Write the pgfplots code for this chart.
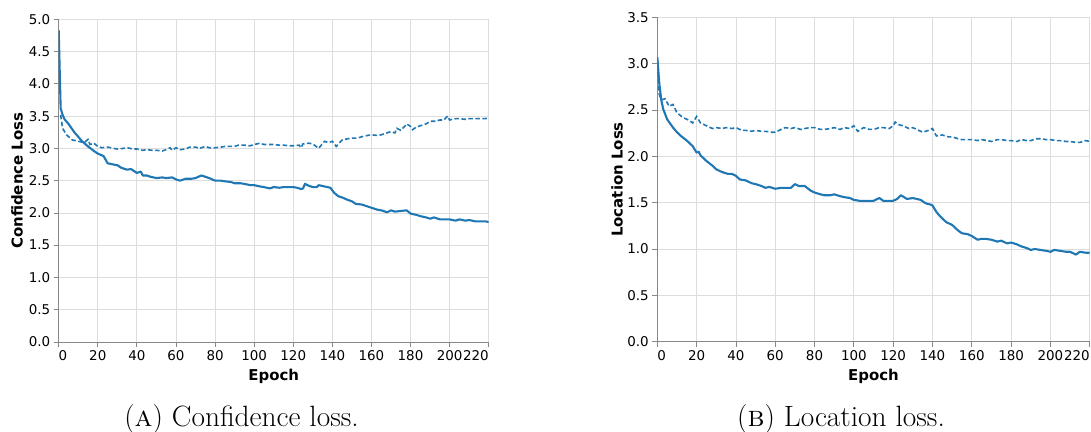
\documentclass[border=0pt]{standalone}
\usepackage{fontspec}
\usepackage{pgfplots}
\usepackage{pgfplotstable}
\pgfplotsset{compat=1.18}
\newfontfamily\dejavu{DejaVu Sans}
\definecolor{lineblue}{HTML}{1F77B4}
\definecolor{gridgray}{HTML}{DDDDDD}
\definecolor{axisgray}{HTML}{888888}

\pgfplotstableread{
x y
0 4.83
1 3.62
2 3.52
3 3.45
5 3.38
8 3.25
12 3.11
15 3.03
18 2.96
20 2.92
23 2.88
25 2.77
28 2.75
30 2.74
32 2.70
35 2.67
37 2.68
40 2.62
42 2.64
43 2.58
45 2.58
47 2.56
50 2.54
53 2.55
55 2.54
58 2.55
60 2.52
62 2.50
65 2.53
68 2.53
70 2.54
73 2.58
75 2.56
77 2.54
80 2.50
83 2.50
85 2.49
88 2.48
90 2.46
93 2.46
95 2.45
98 2.43
100 2.43
103 2.41
105 2.40
108 2.38
110 2.40
113 2.39
115 2.40
118 2.40
120 2.40
122 2.39
124 2.37
125 2.38
126 2.45
128 2.42
130 2.40
132 2.40
133 2.43
136 2.41
139 2.39
141 2.31
143 2.26
145 2.24
148 2.20
150 2.18
152 2.14
155 2.13
158 2.10
160 2.08
163 2.05
165 2.04
167 2.02
168 2.01
170 2.04
172 2.02
175 2.03
178 2.04
180 1.99
183 1.97
185 1.95
188 1.93
190 1.91
192 1.93
195 1.90
198 1.90
200 1.90
203 1.88
205 1.90
208 1.88
210 1.89
213 1.87
215 1.87
218 1.87
220 1.86
}\conftrain

\pgfplotstableread{
x y
1 3.52
2 3.31
4 3.21
7 3.13
10 3.11
13 3.09
15 3.14
16 3.06
18 3.08
20 3.03
22 3.01
25 3.02
28 3.00
30 2.99
33 3.00
35 3.01
38 2.99
40 2.99
43 2.97
45 2.98
48 2.97
50 2.97
53 2.96
55 2.98
57 3.01
58 2.97
60 3.01
62 2.98
65 2.99
67 3.02
70 3.02
72 3.00
75 3.03
77 3.01
80 3.01
83 3.02
85 3.03
88 3.03
90 3.03
92 3.05
95 3.05
98 3.04
100 3.06
103 3.08
105 3.06
108 3.06
110 3.06
113 3.05
115 3.05
118 3.04
120 3.04
123 3.05
124 3.01
125 3.07
128 3.08
130 3.07
133 3.00
136 3.11
138 3.09
140 3.11
142 3.03
145 3.13
148 3.15
150 3.16
153 3.16
155 3.18
158 3.20
160 3.21
163 3.20
165 3.21
168 3.24
170 3.26
172 3.24
173 3.31
175 3.28
177 3.34
178 3.38
180 3.34
181 3.29
183 3.33
185 3.35
188 3.38
190 3.42
193 3.42
195 3.44
197 3.44
199 3.50
200 3.44
203 3.46
205 3.46
208 3.45
210 3.46
213 3.46
215 3.46
218 3.46
220 3.47
}\confval

\pgfplotstableread{
x y
0 3.07
1 2.79
2 2.61
3 2.51
5 2.40
8 2.31
10 2.26
12 2.22
15 2.17
18 2.11
20 2.04
21 2.05
22 2.01
25 1.95
28 1.90
30 1.86
33 1.83
36 1.81
38 1.81
40 1.79
42 1.75
45 1.74
48 1.71
50 1.70
53 1.68
55 1.66
57 1.67
60 1.65
63 1.66
65 1.66
68 1.66
70 1.70
72 1.68
75 1.68
78 1.63
80 1.61
83 1.59
85 1.58
88 1.58
90 1.59
93 1.57
95 1.56
98 1.55
100 1.53
103 1.52
105 1.52
108 1.52
110 1.52
113 1.55
115 1.52
118 1.52
120 1.52
122 1.54
124 1.58
127 1.54
130 1.55
132 1.54
134 1.53
136 1.50
137 1.49
139 1.48
140 1.47
142 1.40
144 1.35
147 1.29
150 1.26
153 1.20
155 1.17
158 1.16
160 1.14
163 1.10
165 1.11
167 1.11
170 1.10
173 1.08
175 1.09
178 1.06
180 1.07
183 1.05
185 1.03
188 1.01
190 0.99
192 1.00
195 0.99
198 0.98
200 0.97
202 0.99
205 0.98
208 0.97
210 0.97
213 0.94
215 0.97
218 0.96
220 0.96
}\loctrain

\pgfplotstableread{
x y
0 3.06
1 2.67
2 2.61
4 2.62
6 2.54
8 2.56
10 2.47
13 2.42
16 2.39
18 2.36
20 2.43
22 2.36
25 2.33
28 2.30
30 2.31
33 2.30
35 2.31
38 2.30
40 2.31
43 2.28
45 2.28
48 2.27
50 2.28
53 2.27
55 2.27
58 2.26
60 2.26
63 2.29
65 2.31
68 2.30
70 2.31
73 2.29
75 2.30
78 2.31
80 2.31
83 2.29
85 2.29
88 2.30
90 2.31
93 2.29
95 2.31
98 2.30
100 2.33
102 2.27
105 2.31
108 2.29
110 2.29
113 2.31
115 2.31
118 2.30
120 2.33
121 2.37
123 2.34
125 2.33
128 2.30
130 2.31
133 2.28
135 2.26
138 2.28
140 2.30
142 2.22
145 2.23
148 2.21
150 2.21
153 2.19
155 2.18
158 2.18
160 2.18
163 2.17
165 2.18
168 2.17
170 2.16
173 2.18
175 2.18
178 2.17
180 2.17
183 2.16
185 2.18
188 2.17
190 2.17
193 2.19
195 2.19
198 2.18
200 2.18
203 2.17
205 2.17
208 2.16
210 2.16
213 2.15
215 2.15
218 2.17
220 2.16
}\locval

\pgfplotsset{
  lossaxis/.style={
    anchor=south west,
    scale only axis,
    xmin=0, xmax=220, ymin=0,
    xtick={0,20,...,220},
    axis x line*=bottom, axis y line*=left,
    axis line style={-, draw=axisgray, line width=0.9bp},
    grid=major,
    major grid style={draw=gridgray, line width=0.8bp},
    tick style={draw=axisgray, line width=0.8bp},
    tick align=outside,
    major tick length=5bp,
    /pgf/number format/assume math mode=true,
    tick label style={font=\dejavu\fontsize{13.5}{14}\selectfont, text=black},
    yticklabel style={/pgf/number format/.cd, fixed, fixed zerofill, precision=1},
    xticklabel={\ifnum\ticknum=0\relax\rlap{\pgfmathprintnumber{\tick}}\else\ifnum\ticknum=11\relax\llap{\pgfmathprintnumber{\tick}}\else\pgfmathprintnumber{\tick}\fi\fi},
    xlabel={Epoch},
    every axis x label/.style={at={(axis description cs:0.5,-0.108)}, anchor=center,
      font=\dejavu\bfseries\fontsize{15}{16}\selectfont},
  },
  trainline/.style={draw=lineblue, line width=2.1bp, line join=round},
  valline/.style={draw=lineblue, line width=1.6bp, dash pattern=on 4.5bp off 2.5bp},
}

\begin{document}
\begin{tikzpicture}
\useasboundingbox (0bp,0bp) rectangle (1091bp,432bp);
\begin{axis}[lossaxis, at={(58.7bp,90bp)}, width=430bp, height=322.7bp,
  ymax=5, ytick={0,0.5,...,5},
  ylabel={Confidence Loss},
  every axis y label/.style={at={(axis description cs:-0.097,0.5)}, rotate=90, anchor=center,
    font=\dejavu\bfseries\fontsize{15}{16}\selectfont}]
\addplot[valline] table[x=x,y=y] {\confval};
\addplot[trainline] table[x=x,y=y] {\conftrain};
\end{axis}
\begin{axis}[lossaxis, at={(657.3bp,90.3bp)}, width=432.4bp, height=324.4bp,
  ymax=3.5, ytick={0,0.5,...,3.5},
  ylabel={Location Loss},
  every axis y label/.style={at={(axis description cs:-0.093,0.5)}, rotate=90, anchor=center,
    font=\dejavu\bfseries\fontsize{15}{16}\selectfont}]
\addplot[valline] table[x=x,y=y] {\locval};
\addplot[trainline] table[x=x,y=y] {\loctrain};
\end{axis}
\node[anchor=base, font=\fontsize{29.5}{34}\selectfont] at (241.5bp,6bp) {(\textsc{a}) Confidence loss.};
\node[anchor=base, font=\fontsize{29.5}{34}\selectfont] at (841bp,6bp) {(\textsc{b}) Location loss.};
\end{tikzpicture}
\end{document}
